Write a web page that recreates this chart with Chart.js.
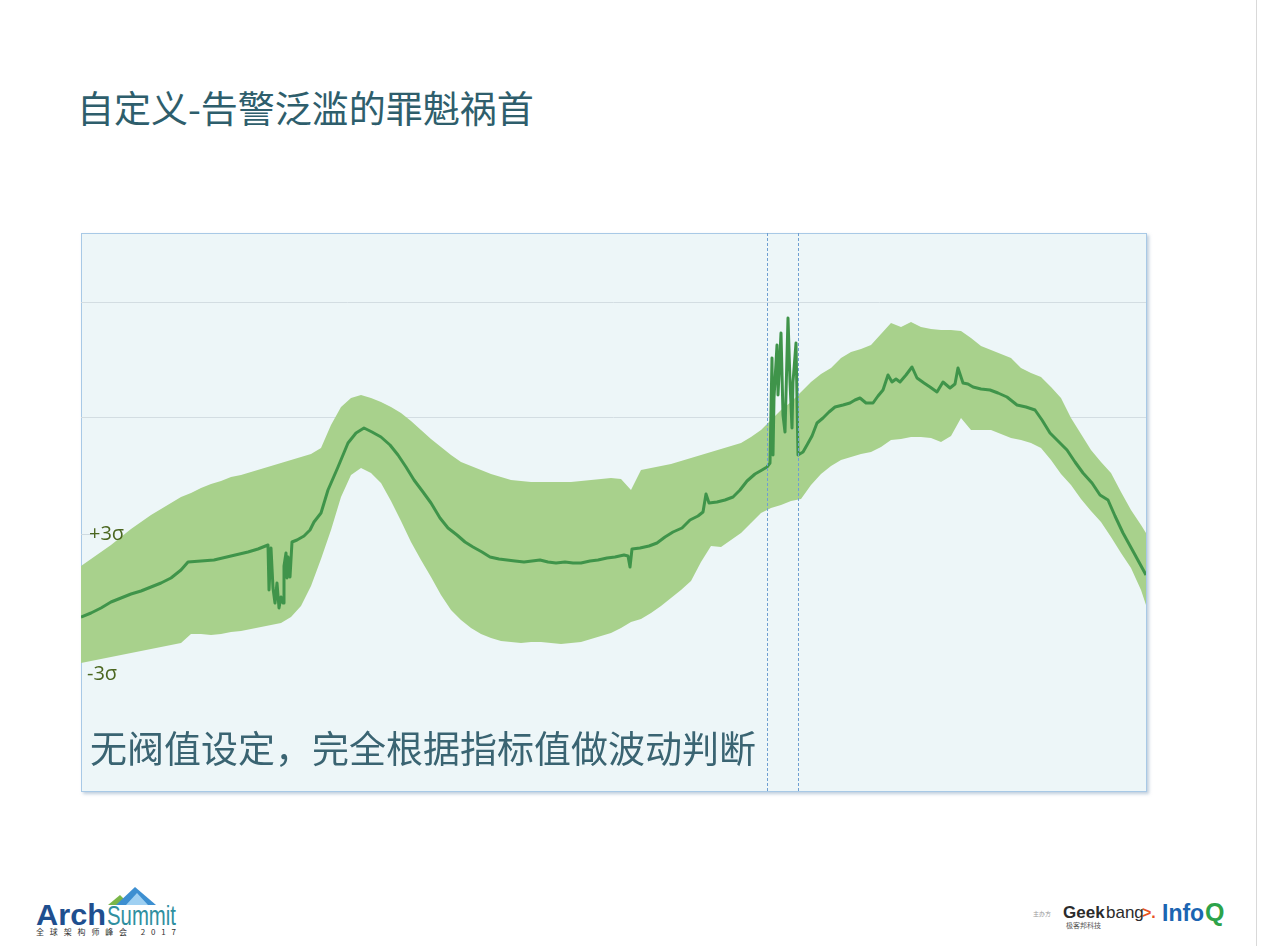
<!DOCTYPE html>
<html>
<head>
<meta charset="utf-8">
<script src="https://cdn.jsdelivr.net/npm/chart.js@4.4.1/dist/chart.umd.min.js"></script>
<style>
  html, body { margin: 0; padding: 0; background: #ffffff; }
  body { width: 1269px; height: 946px; position: relative; overflow: hidden; font-family: "Noto Sans CJK SC", "Noto Sans", sans-serif; }
  #edge { position: absolute; left: 1256px; top: 0; width: 1px; height: 946px; background: #d9d9d9; }
  #title { position: absolute; left: 77px; top: 85px; font-size: 37px; line-height: 44px; color: #2e5e6c; white-space: nowrap; }
  #box { position: absolute; left: 81px; top: 233px; width: 1064px; height: 557px; background: #edf6f8; border: 1px solid #a8c9e6; box-shadow: 2px 2px 3px rgba(130,160,190,0.5); }
  #wrap { position: absolute; left: 81px; top: 233px; width: 1065px; height: 558px; }
  .sig { position: absolute; font-family: "Open Sans", "Noto Sans", sans-serif; font-size: 20px; color: #4b661f; line-height: 24px; }
  #note { position: absolute; left: 90px; top: 724px; font-size: 37px; line-height: 46px; color: #3a6472; white-space: nowrap; }
  #arch { position: absolute; left: 36px; top: 884px; width: 150px; height: 55px; }
  #geek { position: absolute; left: 1030px; top: 896px; }
</style>
</head>
<body>
<div id="edge"></div>
<div id="title">自定义-告警泛滥的罪魁祸首</div>
<div id="box"></div>
<div id="wrap"><canvas id="c" width="1065" height="558"></canvas></div>
<div class="sig" style="left:89px; top:521px;">+3σ</div>
<div class="sig" style="left:87px; top:661px;">-3σ</div>
<div id="note">无阀值设定，完全根据指标值做波动判断</div>

<div id="arch">
  <svg width="150" height="55" viewBox="0 0 150 55">
    <polygon points="72,21 84,11 94,21" fill="#7ab648"/>
    <polygon points="80,21 99,3 120,21" fill="#3d8fd1"/>
    <polygon points="90,21 101,9 112,21" fill="#9fd0f2"/>
    <text x="0" y="41" font-family="Liberation Sans, Arial, sans-serif" font-weight="bold" font-size="29" fill="#1f4f8f" textLength="70" lengthAdjust="spacingAndGlyphs">Arch</text>
    <text x="71" y="41" font-family="Liberation Sans, Arial, sans-serif" font-size="28" fill="#2f8fa0" textLength="69" lengthAdjust="spacingAndGlyphs">Summit</text>
    <text x="0" y="51" font-family="Noto Sans CJK SC, sans-serif" font-size="8" fill="#333" textLength="140" lengthAdjust="spacing">全球架构师峰会 2017</text>
  </svg>
</div>
<div id="geek">
  <svg width="210" height="40" viewBox="0 0 210 40">
    <text x="3" y="20" font-family="Noto Sans CJK SC, sans-serif" font-size="6" fill="#999">主办方</text>
    <text x="33" y="22" font-family="Liberation Sans, Arial, sans-serif" font-weight="bold" font-size="17" fill="#2b2b2b">Geek</text>
    <text x="76" y="22" font-family="Liberation Sans, Arial, sans-serif" font-size="17" fill="#2b2b2b">bang</text>
    <text x="112" y="22" font-family="Liberation Sans, Arial, sans-serif" font-weight="bold" font-size="16" fill="#e8541e">&gt;.</text>
    <text x="36" y="32" font-family="Noto Sans CJK SC, sans-serif" font-size="7" fill="#555">极客邦科技</text>
    <text x="132" y="25" font-family="Liberation Sans, Arial, sans-serif" font-weight="bold" font-size="23" fill="#1b65b2">Info</text>
    <text x="175" y="25" font-family="Liberation Sans, Arial, sans-serif" font-weight="bold" font-size="25" fill="#2da34a">Q</text>
  </svg>
</div>

<script>
// ---- data (time index, metric level) ----
const bandT = [0,10,20,30,40,50,60,70,80,90,100,110,120,130,140,150,160,170,180,190,200,210,220,230,240,250,260,270,280,290,300,310,320,330,340,350,360,370,380,390,400,410,420,430,440,450,460,470,480,490,500,510,520,530,540,550,560,570,580,590,600,610,620,630,640,650,660,670,680,690,700,710,720,730,740,750,760,770,780,790,800,810,820,830,840,850,860,870,880,890,900,910,920,930,940,950,960,970,980,990,1000,1010,1020,1030,1040,1050,1060,1065];
const upper3s = [234,241,248,255,263,271,278,285,291,297,303,307,312,316,319,323,325,328,331,334,337,340,343,346,352,375,393,402,405,402,398,393,387,379,370,361,353,345,338,334,330,326,323,320,319,318,318,318,318,318,319,320,321,322,321,310,330,332,334,336,339,342,345,348,351,354,357,363,370,380,390,398,408,418,426,432,442,448,451,455,466,477,473,478,473,471,470,470,469,462,454,450,446,442,432,427,423,413,402,382,366,350,338,327,308,290,275,267];
const lower3s = [137,139,141,143,145,147,149,151,153,155,157,166,166,165,166,168,169,171,173,175,177,183,194,214,241,270,303,325,332,327,317,299,279,258,240,223,205,190,180,172,166,162,159,158,157,158,158,157,156,157,158,161,164,167,172,178,181,187,194,202,210,219,238,254,253,260,267,277,287,292,295,299,301,315,326,334,340,343,346,348,353,360,361,363,363,362,358,364,382,370,370,370,366,362,360,357,352,340,326,315,301,289,278,263,247,232,210,195];

const lineT = [0,10,20,30,40,50,60,70,80,90,100,107,120,133,150,167,177,187,188,190,192,194,196,198,200,202,203,205,206,207,209,211,216,223,229,233,240,247,257,267,275,283,291,300,309,317,325,333,342,350,359,367,376,384,392,401,409,418,426,434,443,451,459,467,475,484,492,500,509,517,526,534,543,547,549,551,559,568,576,584,592,601,609,617,622,625,628,636,644,652,659,666,674,681,686,689,691,692,693,696,697,700,702,704,707,709,711,712,715,717,722,726,731,736,742,748,754,762,769,774,779,785,792,797,802,807,811,815,819,825,831,836,843,849,856,862,869,874,877,882,887,892,900,909,917,926,936,945,954,961,969,977,986,994,1002,1011,1019,1027,1034,1042,1053,1065];
const lineV = [183,187,192,198,202,206,209,213,217,222,230,238,239,240,244,248,251,255,210,252,212,197,217,192,203,197,234,247,222,243,223,258,260,264,270,278,287,310,333,357,367,372,368,363,355,345,333,320,308,297,282,272,265,258,253,248,243,241,240,239,238,239,240,238,237,238,237,237,239,240,242,243,245,244,233,251,252,254,257,263,268,272,280,284,288,306,297,298,300,303,310,319,326,330,333,337,442,345,402,455,405,467,385,368,482,418,372,418,457,345,348,355,364,377,382,388,393,395,397,400,402,397,397,404,410,425,418,421,418,425,433,422,417,413,408,418,412,416,432,417,416,413,411,410,407,403,395,393,390,380,367,359,350,338,327,317,305,300,284,267,247,225];

const gridLevels = [382, 498];   // full gridlines
const edgeTickLevels = [266];    // short edge ticks
const markerT = [686, 717];      // dashed vertical markers

const toXY = (xs, ys) => xs.map((x, i) => ({ x: x, y: ys[i] }));

const overlay = {
  id: 'overlay',
  beforeDatasetsDraw(chart) {
    const { ctx, chartArea, scales } = chart;
    ctx.save();
    ctx.strokeStyle = '#cfdbe1';
    ctx.lineWidth = 1;
    edgeTickLevels.forEach(v => {
      const y = Math.round(scales.y.getPixelForValue(v)) + 0.5;
      ctx.beginPath();
      ctx.moveTo(chartArea.left, y); ctx.lineTo(chartArea.left + 14, y);
      ctx.moveTo(chartArea.right - 10, y); ctx.lineTo(chartArea.right, y);
      ctx.stroke();
    });
    ctx.restore();
  },
  afterDatasetsDraw(chart) {
    const { ctx, chartArea, scales } = chart;
    ctx.save();
    ctx.strokeStyle = '#6f9fd2';
    ctx.lineWidth = 1;
    ctx.setLineDash([3, 2]);
    markerT.forEach(t => {
      const x = Math.round(scales.x.getPixelForValue(t)) + 0.5;
      ctx.beginPath();
      ctx.moveTo(x, chartArea.top); ctx.lineTo(x, chartArea.bottom);
      ctx.stroke();
    });
    ctx.restore();
  }
};

new Chart(document.getElementById('c'), {
  type: 'line',
  data: {
    datasets: [
      { label: 'value', data: toXY(lineT, lineV), borderColor: '#3f944a', borderWidth: 3, pointRadius: 0, tension: 0, fill: false, borderJoinStyle: 'round' },
      { label: '+3σ', data: toXY(bandT, upper3s), borderWidth: 0, borderColor: 'rgba(0,0,0,0)', backgroundColor: '#a8d18c', pointRadius: 0, tension: 0, fill: '+1' },
      { label: '-3σ', data: toXY(bandT, lower3s), borderWidth: 0, borderColor: 'rgba(0,0,0,0)', pointRadius: 0, tension: 0, fill: false }
    ]
  },
  options: {
    responsive: false,
    animation: false,
    layout: { padding: 0 },
    plugins: { legend: { display: false }, tooltip: { enabled: false } },
    scales: {
      x: { type: 'linear', min: 0, max: 1065, display: false },
      y: {
        type: 'linear', min: 9, max: 567,
        afterBuildTicks: (axis) => { axis.ticks = gridLevels.map(v => ({ value: v })); },
        ticks: { display: false },
        border: { display: false },
        grid: { drawTicks: false, color: '#d3dde2', lineWidth: 1 }
      }
    }
  },
  plugins: [overlay]
});
</script>
</body>
</html>
